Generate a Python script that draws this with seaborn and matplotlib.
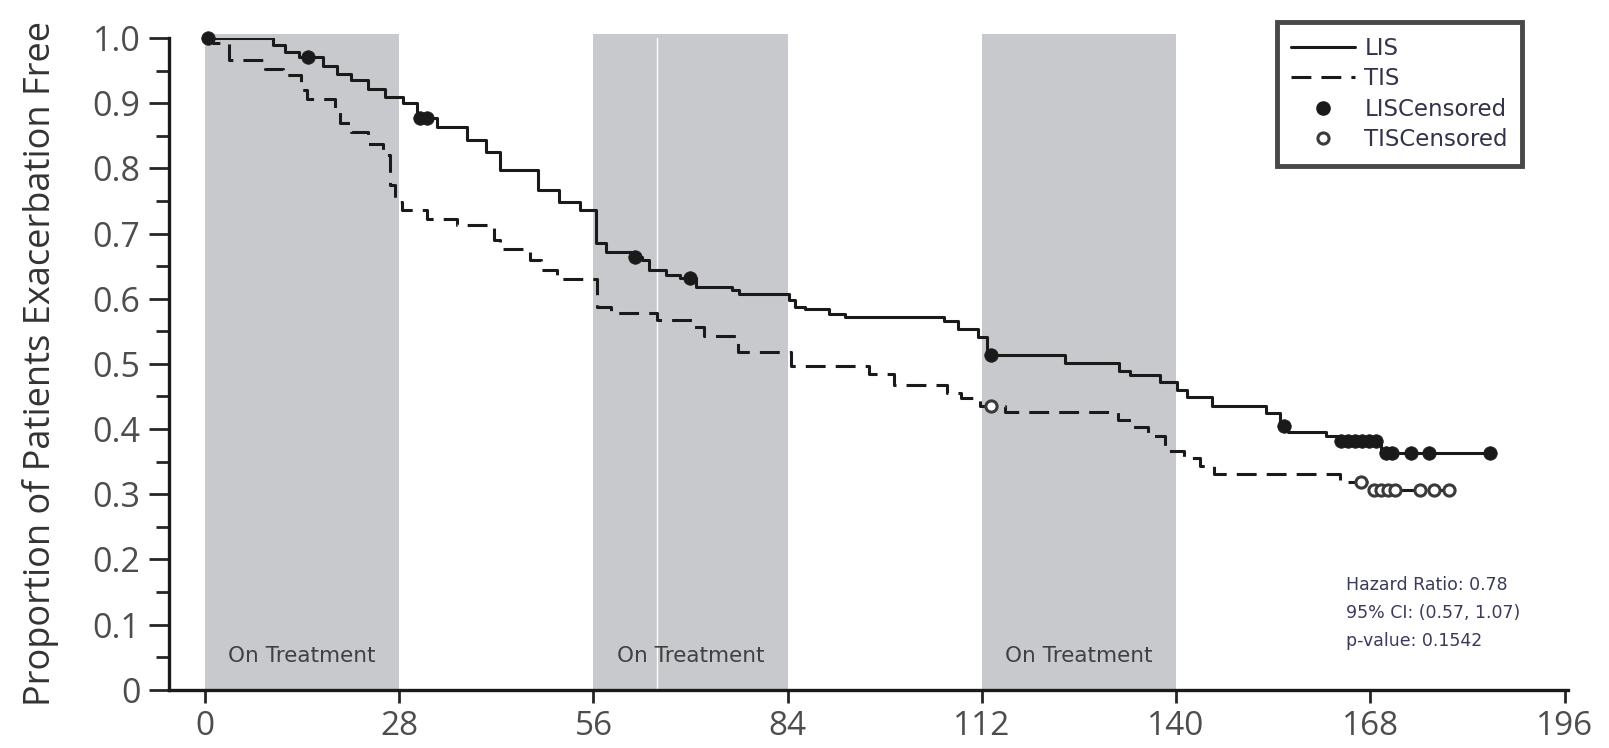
import numpy as np
import pandas as pd
import matplotlib
matplotlib.use("Agg")
import matplotlib.pyplot as plt
import seaborn as sns
from matplotlib.lines import Line2D
from matplotlib.ticker import MultipleLocator, FixedLocator

# step curves: day of event, survival from that day on
lis_days = [0, 9.8, 11.5, 13.5, 17, 19, 21, 23.5, 26, 28.5, 30.5, 33.5, 37.7, 40.5,
            42.5, 48, 51, 54, 56.4, 57.8, 61.5, 63, 64, 66.5, 68.5, 70.8, 76, 77,
            84.2, 85, 86.5, 90, 92.3, 106.6, 108.6, 111.5, 112.8, 124, 131.8, 133.4,
            137.7, 140.1, 141.6, 145.2, 153, 155, 156.2, 161.6, 163.3, 169.5, 185.3]
lis_surv = [1.0, 0.990, 0.978, 0.971, 0.958, 0.945, 0.935, 0.922, 0.910, 0.900, 0.877,
            0.864, 0.843, 0.825, 0.797, 0.767, 0.749, 0.736, 0.685, 0.672, 0.664, 0.659,
            0.644, 0.636, 0.632, 0.618, 0.613, 0.608, 0.598, 0.588, 0.584, 0.577, 0.572,
            0.566, 0.554, 0.542, 0.513, 0.502, 0.489, 0.483, 0.472, 0.460, 0.449, 0.435,
            0.424, 0.405, 0.395, 0.390, 0.381, 0.363, 0.363]

tis_days = [0, 1.1, 3.5, 8.6, 11.3, 13.9, 14.7, 18.8, 19.5, 21.1, 23.5, 25.7, 26.6, 27.4,
            28.4, 32, 36.3, 41.6, 42.6, 46.9, 48.4, 50.8, 56.5, 58.5, 65.2, 70.5, 72,
            76.8, 84.5, 95.7, 99.3, 107, 109, 111.8, 115.4, 131.6, 133.8, 136, 138.4,
            141.1, 143.5, 145.4, 163.7, 167.8, 179.5]
tis_surv = [1.0, 0.992, 0.966, 0.953, 0.943, 0.920, 0.907, 0.887, 0.869, 0.856, 0.838,
            0.820, 0.774, 0.749, 0.736, 0.723, 0.713, 0.690, 0.677, 0.659, 0.644, 0.631,
            0.588, 0.578, 0.567, 0.557, 0.543, 0.519, 0.497, 0.484, 0.467, 0.455, 0.447,
            0.436, 0.426, 0.414, 0.403, 0.389, 0.367, 0.355, 0.344, 0.331, 0.319, 0.307,
            0.307]

lis_cens_days = [0.5, 14.8, 31.0, 32.0, 62.0, 69.9, 113.3, 155.6, 163.8, 164.8, 165.8,
                 166.8, 167.8, 168.8, 170.2, 171.2, 173.8, 176.5, 185.3]
lis_cens_surv = [1.0, 0.971, 0.877, 0.877, 0.664, 0.632, 0.513, 0.405, 0.381, 0.381,
                 0.381, 0.381, 0.381, 0.381, 0.363, 0.363, 0.363, 0.363, 0.363]

tis_cens_days = [113.3, 166.6, 168.6, 169.6, 170.6, 171.6, 175.2, 177.2, 179.3]
tis_cens_surv = [0.436, 0.319, 0.307, 0.307, 0.307, 0.307, 0.307, 0.307, 0.307]

treatment_periods = [(0, 28), (56, 84), (112, 140)]
x_ticks = [0, 28, 56, 84, 112, 140, 168, 196]
y_ticks = [0, 0.1, 0.2, 0.3, 0.4, 0.5, 0.6, 0.7, 0.8, 0.9, 1.0]
y_tick_labels = ["0", "0.1", "0.2", "0.3", "0.4", "0.5", "0.6", "0.7", "0.8", "0.9", "1.0"]
stats_lines = ["Hazard Ratio: 0.78", "95% CI: (0.57, 1.07)", "p-value: 0.1542"]

sns.set_style("ticks")
plt.rcParams["font.family"] = ["Open Sans", "DejaVu Sans"]

fig = plt.figure(figsize=(16.09, 7.48), dpi=100)
ax = fig.add_axes([0.105, 0.078, 0.8695, 0.871])

for start, end in treatment_periods:
    ax.axvspan(start, end, ymin=0, ymax=1.006, color="#c8c9cc", lw=0, zorder=0,
               clip_on=False)
    ax.text((start + end) / 2, 0.052, "On Treatment", ha="center", va="center",
            fontsize=15.5, color="#404040", family="DejaVu Sans")
# thin light seam inside the second band, as in the source image
ax.axvline(65.2, color="white", lw=1, zorder=0.5)

lis = pd.DataFrame({"day": lis_days, "surv": lis_surv})
tis = pd.DataFrame({"day": tis_days, "surv": tis_surv})

sns.lineplot(data=lis, x="day", y="surv", ax=ax, estimator=None, sort=False,
             drawstyle="steps-post", color="#1a1a1a", lw=2.2, zorder=3)
sns.lineplot(data=tis, x="day", y="surv", ax=ax, estimator=None, sort=False,
             drawstyle="steps-post", color="#1a1a1a", lw=2.2, dashes=False,
             linestyle=(0, (6.5, 3.3)), zorder=3)

sns.scatterplot(x=lis_cens_days, y=lis_cens_surv, ax=ax, s=95, color="#1a1a1a",
                edgecolor="#1a1a1a", linewidth=0.5, zorder=4, clip_on=False)
sns.scatterplot(x=tis_cens_days, y=tis_cens_surv, ax=ax, s=65, facecolor="white",
                edgecolor="#3a3a3a", linewidth=2.2, zorder=4, clip_on=False)

ax.set_xlim(-5.2, 196.5)
ax.set_ylim(0, 1.0)
ax.xaxis.set_major_locator(FixedLocator(x_ticks))
ax.yaxis.set_major_locator(FixedLocator(y_ticks))
ax.yaxis.set_minor_locator(MultipleLocator(0.05))
ax.set_yticklabels(y_tick_labels)
ax.tick_params(axis="y", which="major", length=14.5, width=2, labelsize=24.5,
               labelcolor="#4d4d4d", pad=6)
ax.tick_params(axis="y", which="minor", length=9.5, width=2)
ax.tick_params(axis="x", which="major", length=9.5, width=2, labelsize=24,
               labelcolor="#4d4d4d", pad=5.5)
for side in ["left", "bottom"]:
    ax.spines[side].set_linewidth(2.4)
    ax.spines[side].set_color("#1a1a1a")
sns.despine(ax=ax)

ax.set_xlabel("")
ax.set_ylabel("Proportion of Patients Exacerbation Free", fontsize=26,
              color="#333333", labelpad=24)

ax.text(164.5, 0.175, "\n".join(stats_lines), ha="left", va="top", fontsize=12.5,
        color="#3a3a5a", linespacing=1.72, family="DejaVu Sans")

handles = [
    Line2D([], [], color="#1a1a1a", lw=2.2),
    Line2D([], [], color="#1a1a1a", lw=2.2, linestyle=(0, (6.5, 3.3))),
    Line2D([], [], color="#1a1a1a", marker="o", ls="", markersize=9.5),
    Line2D([], [], color="#3a3a3a", marker="o", ls="", markersize=8,
           markerfacecolor="white", markeredgewidth=2.2),
]
leg = ax.legend(handles, ["LIS", "TIS", "LISCensored", "TISCensored"],
                loc="upper right", bbox_to_anchor=(0.946, 0.970),
                bbox_transform=fig.transFigure, frameon=True, fancybox=False,
                prop={"family": "DejaVu Sans", "size": 16.5}, handlelength=2.8,
                labelspacing=0.33, borderpad=0.62, handletextpad=0.4,
                borderaxespad=0)
leg.get_frame().set_edgecolor("#1a1a1a")
leg.get_frame().set_linewidth(3.5)
for t in leg.get_texts():
    t.set_color("#33334a")

fig.savefig("out.png", dpi=100)
